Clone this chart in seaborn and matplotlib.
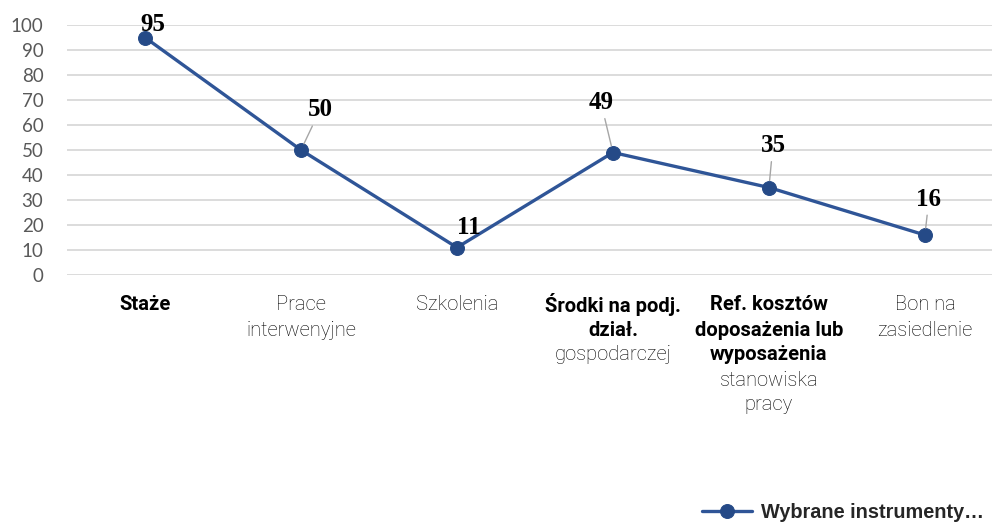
import seaborn as sns
import matplotlib.pyplot as plt
import pandas as pd

# Categories and values
categories = ["Staże", "Prace interwenyjne", "Szkolenia", "Środki na podj. dział. gospodarczej",
              "Ref. kosztów doposażenia lub wyposażenia stanowiska pracy", "Bon na zasiedlenie"]
values = [95, 50, 11, 49, 35, 16]
series_name = "Wybrane instrumenty…"

# tick label lines: (text, bold?)
tick_lines = [
    [("Staże", True)],
    [("Prace", False), ("interwenyjne", False)],
    [("Szkolenia", False)],
    [("Środki na podj.", True), ("dział.", True), ("gospodarczej", False)],
    [("Ref. kosztów", True), ("doposażenia lub", True), ("wyposażenia", True),
     ("stanowiska", False), ("pracy", False)],
    [("Bon na", False), ("zasiedlenie", False)],
]

# label offsets in pixels (dx, dy) and whether a leader line is drawn
label_offsets = [(8, 13), (19, 40), (12, 20), (-12, 50), (4, 42), (4, 36)]
leaders = [False, True, False, True, True, True]

df = pd.DataFrame({"cat": categories, "val": values})

sns.set_style("white")
fig = plt.figure(figsize=(9.92, 5.25), dpi=100)
ax = fig.add_axes([67 / 992, 1 - 275 / 525, (992 - 67) / 992, 250 / 525])

sns.lineplot(data=df, x="cat", y="val", marker="o", color="#2F5597", linewidth=2.4,
             markersize=10, markerfacecolor="#254A87", markeredgecolor="#254A87",
             label=series_name, ax=ax, sort=False)

ax.set_ylim(0, 100)
ax.set_xlim(-0.5, 5.43)
ax.set_yticks(range(0, 101, 10))
ax.yaxis.grid(True, color="#D9D9D9", linewidth=1.3)
ax.set_axisbelow(True)
for s in ax.spines.values():
    s.set_visible(False)
ax.tick_params(axis="y", length=0, pad=17, labelsize=13.5, labelcolor="#595959")
for t in ax.get_yticklabels():
    t.set_fontfamily(["Lato", "DejaVu Sans"])
ax.set_xticks(range(len(categories)))
ax.set_xticklabels([""] * len(categories))
ax.tick_params(axis="x", length=0)
ax.set_xlabel("")
ax.set_ylabel("")

# data labels
for i, v in enumerate(values):
    dx, dy = label_offsets[i]
    props = None
    if leaders[i]:
        props = dict(arrowstyle="-", color="#A6A6A6", lw=1, shrinkA=1, shrinkB=5)
    ax.annotate(str(v), xy=(i, v), xytext=(dx * 0.72, dy * 0.72), textcoords="offset points",
                ha="center", va="center", fontsize=18, fontweight="bold",
                family=["Liberation Serif", "DejaVu Serif"], color="black",
                arrowprops=props)

# category labels with mixed weights
for i, lines in enumerate(tick_lines):
    for k, (txt, bold) in enumerate(lines):
        ax.annotate(txt, xy=(i, 0), xycoords=("data", "axes fraction"),
                    xytext=(0, -(30 + 25 * k) * 0.72), textcoords="offset points",
                    ha="center", va="center", fontsize=14.5,
                    fontweight="bold" if bold else "light",
                    family=["Liberation Sans Narrow", "Roboto", "DejaVu Sans"],
                    color="black")

ax.get_legend().remove()
fig.legend(loc="center right", bbox_to_anchor=(1.01, 1 - 512 / 525),
           frameon=False, handlelength=2.5, handletextpad=0.45,
           prop=dict(family=["Liberation Sans", "DejaVu Sans"], weight="bold", size=14.3))

fig.savefig("out.png", dpi=100)
